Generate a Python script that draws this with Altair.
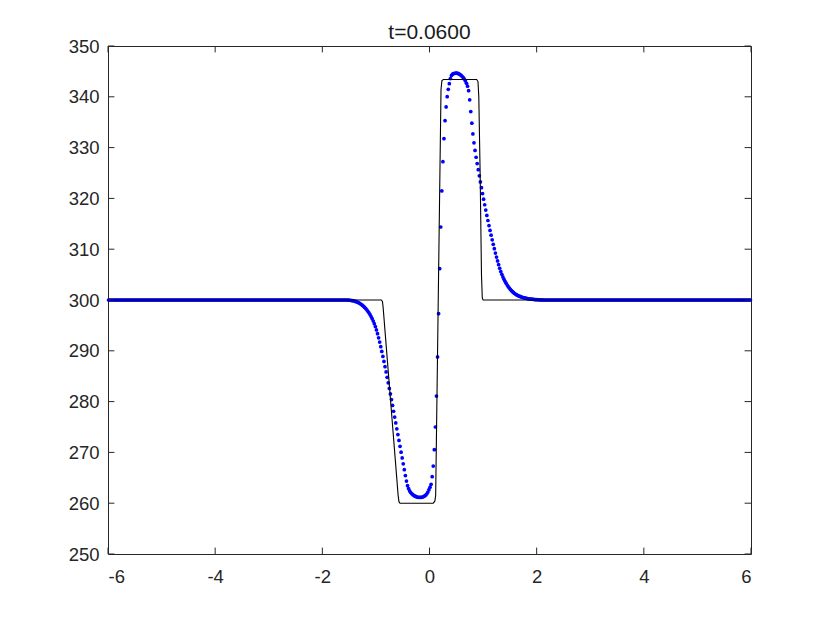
import altair as alt
import pandas as pd

# ---- numerical solution (blue dots) on a uniform grid ----
grid_start = -5.99
grid_step = 0.02
grid_count = 600
flat_level = 300.0
active_first = -1.57
active_values = [
    300.00, 299.99, 299.98, 299.97, 299.95, 299.93, 299.90, 299.86, 299.81,
    299.75, 299.68, 299.60, 299.50, 299.39, 299.26, 299.11, 298.94, 298.75,
    298.54, 298.31, 298.06, 297.78, 297.47, 297.13, 296.75, 296.33, 295.86,
    295.34, 294.76, 294.10, 293.36, 292.56, 291.71, 290.81, 289.87, 288.90,
    287.90, 286.88, 285.84, 284.78, 283.70, 282.60, 281.50, 280.40, 279.25,
    278.10, 276.95, 275.80, 274.65, 273.50, 272.35, 271.20, 270.05, 268.90,
    267.75, 266.60, 265.45, 264.35, 263.45, 262.85, 262.42, 262.10, 261.86,
    261.68, 261.51, 261.38, 261.28, 261.21, 261.17, 261.15, 261.15, 261.17,
    261.22, 261.30, 261.42, 261.60, 261.85, 262.20, 262.65, 263.15, 263.72,
    265.22, 267.32, 270.53, 275.00, 281.10, 288.80, 297.30, 306.16, 314.37,
    321.46, 327.22, 331.75, 335.30, 338.00, 340.02, 341.48, 342.58, 343.60,
    344.20, 344.45, 344.58, 344.63, 344.65, 344.64, 344.60, 344.50, 344.38,
    344.22, 344.02, 343.80, 343.50, 343.12, 342.65, 342.10, 341.20, 339.40,
    337.10, 334.80, 332.70, 330.95, 329.45, 328.10, 326.85, 325.65, 324.45,
    323.25, 322.10, 320.95, 319.85, 318.75, 317.70, 316.65, 315.65, 314.65,
    313.70, 312.75, 311.85, 310.95, 310.10, 309.25, 308.45, 307.70, 306.95,
    306.25, 305.60, 305.05, 304.55, 304.10, 303.68, 303.30, 302.95, 302.63,
    302.34, 302.08, 301.84, 301.63, 301.44, 301.27, 301.12, 300.99, 300.88,
    300.78, 300.69, 300.61, 300.54, 300.48, 300.42, 300.37, 300.32, 300.28,
    300.24, 300.21, 300.18, 300.15, 300.13, 300.11, 300.09, 300.07, 300.06,
    300.05, 300.04, 300.03, 300.02, 300.01,
]

# ---- exact solution (black line) ----
exact_x = [-6.0, -0.90, -0.878, -0.865, -0.585, -0.57, -0.55, 0.07, 0.10, 0.115,
           0.215, 0.232, 0.26, 0.88, 0.905, 0.92, 0.945, 0.97, 0.985, 1.0, 6.0]
exact_y = [300.0, 300.0, 299.7, 298.5, 261.5, 260.3, 260.0, 260.0, 260.4, 261.5,
           341.5, 343.2, 343.4, 343.4, 343.0, 340.0, 325.0, 305.0, 300.4, 300.0, 300.0]

x_ticks = [-6, -4, -2, 0, 2, 4, 6]
y_ticks = [250, 260, 270, 280, 290, 300, 310, 320, 330, 340, 350]
title_text = "t=0.0600"

xs = [round(grid_start + i * grid_step, 2) for i in range(grid_count)]
ys = [flat_level] * grid_count
first_idx = int(round((active_first - grid_start) / grid_step))
for k, v in enumerate(active_values):
    ys[first_idx + k] = v

num = pd.DataFrame({"x": xs, "u": ys})
exact = pd.DataFrame({"x": exact_x, "u": exact_y})
xt = pd.DataFrame({"x": x_ticks})
yt = pd.DataFrame({"u": y_ticks})

W, H = 643, 508
TL = 6.4
AX = "#262626"
FONT = "Liberation Sans"

xscale = alt.Scale(domain=[-6, 6], nice=False, zero=False)
yscale = alt.Scale(domain=[250, 350], nice=False, zero=False)

xaxis = alt.Axis(values=x_ticks, title="", grid=False, domain=False, ticks=False,
                 labelPadding=13, labelFontSize=18.5, labelFont=FONT, labelColor=AX,
                 format="d", labelExpr="replace(datum.label, '\u2212', '-')")
yaxis = alt.Axis(values=y_ticks, title="", grid=False, domain=False, ticks=False,
                 labelPadding=9, labelFontSize=18.5, labelFont=FONT, labelColor=AX,
                 format="d")

X = alt.X("x:Q", scale=xscale, axis=xaxis)
Y = alt.Y("u:Q", scale=yscale, axis=yaxis)

dots = alt.Chart(num).mark_circle(size=14, color="#0000ff", opacity=1).encode(x=X, y=Y)

line = alt.Chart(exact).mark_line(color="black", strokeWidth=1.1).encode(x=X, y=Y)

tb = alt.Chart(xt).mark_rule(color=AX, strokeWidth=1).encode(
    x=X, y=alt.value(H), y2=alt.value(H - TL))
tt = alt.Chart(xt).mark_rule(color=AX, strokeWidth=1).encode(
    x=X, y=alt.value(0), y2=alt.value(TL))
tlft = alt.Chart(yt).mark_rule(color=AX, strokeWidth=1).encode(
    y=Y, x=alt.value(0), x2=alt.value(TL))
trgt = alt.Chart(yt).mark_rule(color=AX, strokeWidth=1).encode(
    y=Y, x=alt.value(W - TL), x2=alt.value(W))

chart = alt.layer(dots, line, tb, tt, tlft, trgt).properties(
    width=W, height=H,
    title=alt.TitleParams(title_text, fontSize=21, fontWeight="normal", font=FONT,
                          color="#1a1a1a", offset=8, dy=14),
    autosize=alt.AutoSizeParams(type="none"),
    padding={"left": 100, "top": 38, "right": 70, "bottom": 55},
).configure_view(stroke=AX, strokeWidth=1)

chart.save("out.html", embed_options={"renderer": "svg", "actions": False})
